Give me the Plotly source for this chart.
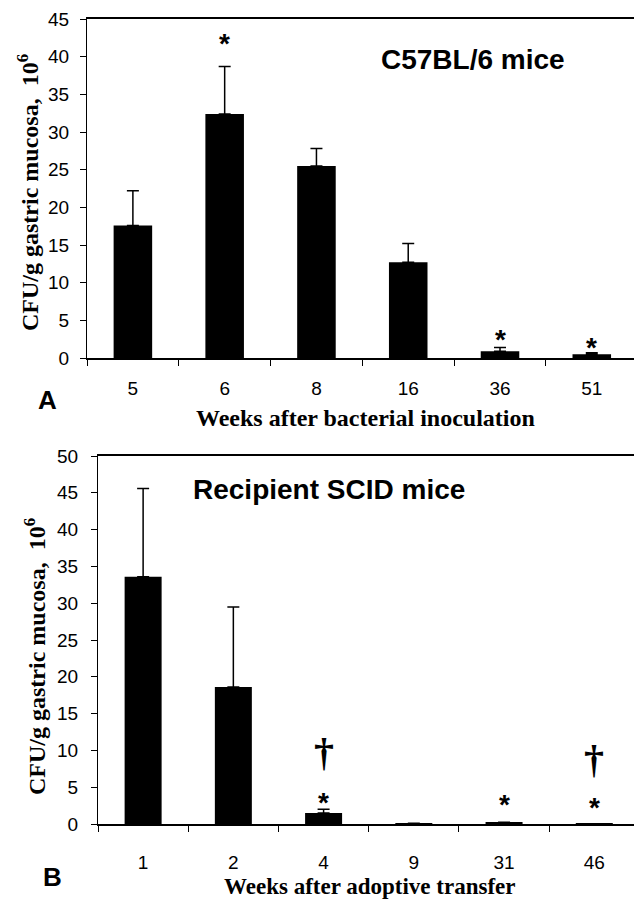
import plotly.graph_objects as go

W, H = 634, 900

# ---- data (panel A) ----
weeks_a = ["5", "6", "8", "16", "36", "51"]
cfu_a = [17.6, 32.4, 25.5, 12.7, 0.9, 0.5]
err_a = [4.6, 6.3, 2.3, 2.5, 0.5, 0.2]
star_a_cats = ["6", "36", "51"]
star_a_y = [42.5, 3.3, 2.2]
yticks_a = [0, 5, 10, 15, 20, 25, 30, 35, 40, 45]

# ---- data (panel B) ----
weeks_b = ["1", "2", "4", "9", "31", "46"]
cfu_b = [33.6, 18.6, 1.5, 0.1, 0.25, 0.02]
err_b = [12.0, 10.9, 0.5, None, None, None]
star_b_cats = ["4", "31", "46"]
star_b_y = [3.8, 3.4, 3.1]
dagger_b_cats = ["4", "46"]
dagger_b_y = [9.7, 8.8]
yticks_b = [0, 5, 10, 15, 20, 25, 30, 35, 40, 45, 50]

def px_x(p):
    return p / W

def px_y(p):
    return 1 - p / H

fig = go.Figure()

fig.add_trace(go.Bar(
    x=weeks_a, y=cfu_a, width=0.42, marker=dict(color="black", line=dict(width=0)),
    error_y=dict(type="data", symmetric=False, array=err_a, arrayminus=[0] * len(err_a),
                 color="black", thickness=1.5, width=6),
    xaxis="x", yaxis="y", showlegend=False))

fig.add_trace(go.Bar(
    x=weeks_b, y=cfu_b, width=0.41, marker=dict(color="black", line=dict(width=0)),
    error_y=dict(type="data", symmetric=False, array=err_b, arrayminus=[0] * len(err_b),
                 color="black", thickness=1.5, width=6),
    xaxis="x2", yaxis="y2", showlegend=False))

tickfont = dict(family="Liberation Sans, Arial", size=19, color="black")

xcommon = dict(type="category", showline=True, linecolor="black", linewidth=1.5, mirror=True,
               ticks="outside", ticklen=6, tickcolor="black", tickson="boundaries",
               showgrid=False, zeroline=False, tickfont=tickfont, automargin=False)
ycommon = dict(showline=True, linecolor="black", linewidth=1, ticks="outside", ticklen=6,
               tickcolor="black", showgrid=False, zeroline=False, tickfont=tickfont,
               automargin=False)

fig.update_layout(
    width=W, height=H, margin=dict(l=0, r=0, t=0, b=0, autoexpand=False),
    paper_bgcolor="white", plot_bgcolor="white",
    xaxis=dict(xcommon, domain=[px_x(87), 1], range=[-0.5, 5.46], anchor="y",
               ticklabelstandoff=12),
    yaxis=dict(ycommon, domain=[px_y(358), px_y(19)], range=[0, 45], tickvals=yticks_a, anchor="x",
               ticklabelstandoff=7),
    xaxis2=dict(xcommon, domain=[px_x(98), 1], range=[-0.5, 5.44], anchor="y2",
                ticklabelstandoff=20),
    yaxis2=dict(ycommon, domain=[px_y(824), px_y(456)], range=[0, 50], tickvals=yticks_b, anchor="x2",
                ticklabelstandoff=9),
)

ann = []
sans_b = "Liberation Sans, Arial"
serif_b = "Liberation Serif, Times New Roman"

def paper_text(text, x, y, size, family, bold=True, angle=0):
    ann.append(dict(text=f"<b>{text}</b>" if bold else text, x=px_x(x), y=px_y(y),
                    xref="paper", yref="paper", xanchor="center", yanchor="middle",
                    showarrow=False, textangle=angle,
                    font=dict(family=family, size=size, color="black")))

# titles
paper_text("C57BL/6 mice", 473, 60, 28, sans_b)
paper_text("Recipient SCID mice", 329, 490, 28, sans_b)
# panel letters
paper_text("A", 47, 400, 26, sans_b)
paper_text("B", 53, 877, 26, sans_b)
# axis titles
paper_text("Weeks after bacterial inoculation", 365, 418, 24, serif_b)
paper_text("Weeks after adoptive transfer", 370, 886, 23, serif_b)
paper_text("CFU/g gastric mucosa,  10<sup>6</sup>", 28, 193, 24, serif_b, angle=-90)
paper_text("CFU/g gastric mucosa,  10<sup>6</sup>", 35, 657, 24, serif_b, angle=-90)

# significance markers (x given as category index)
for c, v in zip(star_a_cats, star_a_y):
    ann.append(dict(text="<b>*</b>", x=weeks_a.index(c), y=v, xref="x", yref="y", showarrow=False,
                    xanchor="center", yanchor="middle", yshift=-6,
                    font=dict(family=sans_b, size=28, color="black")))
for c, v in zip(star_b_cats, star_b_y):
    ann.append(dict(text="<b>*</b>", x=weeks_b.index(c), y=v, xref="x2", yref="y2", showarrow=False,
                    xanchor="center", yanchor="middle", yshift=-6,
                    font=dict(family=sans_b, size=28, color="black")))
for c, v in zip(dagger_b_cats, dagger_b_y):
    ann.append(dict(text="<b>†</b>", x=weeks_b.index(c), y=v, xref="x2", yref="y2", showarrow=False,
                    xanchor="center", yanchor="middle",
                    font=dict(family=serif_b, size=40, color="black")))

fig.update_layout(annotations=ann)
fig.write_html("out.html", config={"displayModeBar": False},
               post_script="document.body.style.margin='0';document.body.style.overflow='hidden';")
